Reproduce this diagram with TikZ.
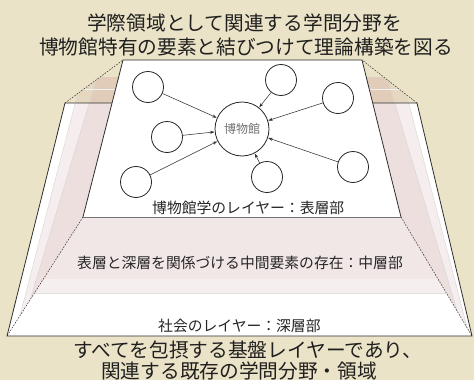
\documentclass[tikz,border=0pt]{standalone}
\usepackage{fontspec}
\setmainfont{Noto Sans CJK JP}
\usetikzlibrary{arrows.meta}
\definecolor{bgtan}{RGB}{235,227,199}
\definecolor{stripc}{RGB}{205,160,158}
\definecolor{midpink}{RGB}{242,231,231}
\definecolor{midlight}{RGB}{246,239,239}
\definecolor{edgec}{RGB}{45,45,45}
\begin{document}
\begin{tikzpicture}[x=1pt,y=-1pt,
  bubble/.style={circle,draw=black!85,line width=0.8pt,fill=white,minimum size=31pt,inner sep=0pt},
  hub/.style={circle,draw=black!85,line width=0.8pt,fill=white,minimum size=54pt,inner sep=0pt,font=\fontsize{12}{14}\selectfont,text=black!55},
  link/.style={-{Stealth[length=4.5pt,width=3.2pt]},line width=0.55pt,draw=black!80,shorten >=0.3pt},
  edgeline/.style={draw=edgec,line width=0.8pt},
  dashline/.style={draw=edgec,line width=0.5pt,dash pattern=on 1.6pt off 1.3pt},
  titletext/.style={font=\fontsize{19.7}{24}\selectfont,text=black!88,inner sep=0pt,anchor=west},
  layertext/.style={font=\fontsize{14.8}{17}\selectfont,text=black!85,inner sep=0pt,anchor=west}]
\useasboundingbox (0,0) rectangle (474,380);
\fill[bgtan] (0,0) rectangle (474,380);
% corners
\coordinate (OTL) at (65,103);
\coordinate (OTR) at (417,103);
\coordinate (OBL) at (7,336);
\coordinate (OBR) at (472,336);
\coordinate (STL) at (123,60);
\coordinate (STR) at (362,60);
\coordinate (SBL) at (83,217);
\coordinate (SBR) at (401,217);
% outer white base
\fill[white] (OTL) -- (OTR) -- (OBR) -- (OBL) -- cycle;
% middle band
\fill[midpink] (SBL) -- (SBR) -- (446.3,293) -- (34.5,293) -- cycle;
\fill[midlight] (43.4,279) -- (438,279) -- (446.3,293) -- (34.5,293) -- cycle;
\draw[black!12,line width=0.5pt] (34.5,293) -- (446.3,293);
% left wing strips
\begin{scope}
  \clip (OTL) -- (STL) -- (SBL) -- (OBL) -- cycle;
  \fill[stripc,opacity=0.17] (82,77) -- (97,77) -- (19.3,336) -- (14.7,336) -- cycle;
  \fill[stripc,opacity=0.33] (97,77) -- (125,77) -- (47,336) -- (19.3,336) -- cycle;
  \draw[black!15,line width=0.5pt] (82,77) -- (14.7,336);
  \draw[black!15,line width=0.5pt] (97,77) -- (19.3,336);
  \draw[white!70!black!20,line width=0.5pt] (60,89) -- (125,89);
\end{scope}
% right wing strips
\begin{scope}
  \clip (OTR) -- (STR) -- (SBR) -- (OBR) -- cycle;
  \fill[stripc,opacity=0.17] (402,77) -- (387,77) -- (464.7,336) -- (469.3,336) -- cycle;
  \fill[stripc,opacity=0.33] (387,77) -- (359,77) -- (437,336) -- (464.7,336) -- cycle;
  \draw[black!15,line width=0.5pt] (402,77) -- (469.3,336);
  \draw[black!15,line width=0.5pt] (387,77) -- (464.7,336);
  \draw[white!70!black!20,line width=0.5pt] (359,89) -- (424,89);
\end{scope}
% outer outline
\draw[edgeline] (112,103) -- (OTL) -- (OBL) -- (OBR) -- (OTR) -- (373,103);
% dashed edges
\draw[dashline] (OTL) -- (STL);
\draw[dashline] (OTR) -- (STR);
\draw[dashline] (SBL) -- (OBL);
\draw[dashline] (SBR) -- (OBR);
% surface layer
\fill[white] (STL) -- (STR) -- (SBR) -- (SBL) -- cycle;
\draw[edgeline] (SBL) -- (STL) -- (STR) -- (SBR);
\draw[black!55,line width=0.7pt] (SBL) -- (SBR);
% network
\node[hub] (hub) at (242,129) {博物館};
\node[bubble] (b1) at (148,87) {};
\node[bubble] (b2) at (281,80) {};
\node[bubble] (b3) at (338,98) {};
\node[bubble] (b4) at (167,137) {};
\node[bubble] (b5) at (136,182) {};
\node[bubble] (b6) at (267,177) {};
\node[bubble] (b7) at (353,167) {};
\foreach \b in {b1,b2,b3,b4,b5,b6,b7} \draw[link] (\b) -- (hub);
% texts
\node[titletext] (t1) at (87,23) {学際領域として関連する学問分野を};
\node[titletext] (t2) at (39,47) {博物館特有の要素と結びつけて理論構築を図る};
\node[layertext] (l1) at (152,208) {博物館学のレイヤー：表層部};
\node[layertext] (l2) at (77,263) {表層と深層を関係づける中間要素の存在：中層部};
\node[layertext] (l3) at (158,326) {社会のレイヤー：深層部};
\node[titletext] (u1) at (73,350) {すべてを包摂する基盤レイヤーであり、};
\node[titletext] (u2) at (101,371) {関連する既存の学問分野・領域};
\end{tikzpicture}
\end{document}
